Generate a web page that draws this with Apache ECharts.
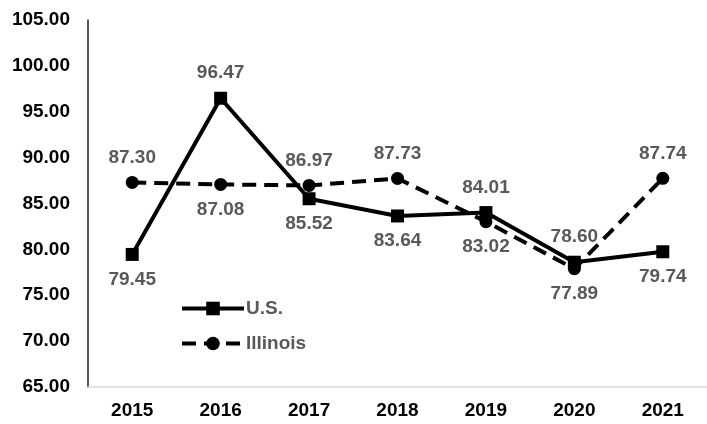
<!DOCTYPE html>
<html>
<head>
<meta charset="utf-8">
<script src="https://cdn.jsdelivr.net/npm/echarts@6/dist/echarts.min.js"></script>
<style>
  html, body { margin: 0; padding: 0; background: #fff; }
  #chart { width: 707px; height: 424px; }
</style>
</head>
<body>
<div id="chart"></div>
<script>
var years = ["2015", "2016", "2017", "2018", "2019", "2020", "2021"];
var usValues = [79.45, 96.47, 85.52, 83.64, 84.01, 78.60, 79.74];
var illinoisValues = [87.30, 87.08, 86.97, 87.73, 83.02, 77.89, 87.74];
// which side of the marker each value label sits on
var usLabelSide = ["bottom", "top", "bottom", "bottom", "top", "top", "bottom"];
var illinoisLabelSide = ["top", "bottom", "top", "top", "bottom", "bottom", "top"];

var labelFont = {
  fontFamily: "Liberation Sans",
  fontWeight: "bold",
  fontSize: 19,
  color: "#595959"
};

function buildPoints(values, sides) {
  return values.map(function (v, i) {
    return {
      value: v,
      label: { position: sides[i] }
    };
  });
}

var myChart = echarts.init(document.getElementById("chart"));
var option = {
  animation: false,
  grid: { left: 88, top: 20, width: 630, height: 367 },
  legend: {
    orient: "vertical",
    left: 175,
    top: 294,
    itemWidth: 62,
    itemHeight: 17,
    itemGap: 16,
    lineStyle: { width: 4 },
    textStyle: {
      fontFamily: "Liberation Sans",
      fontWeight: "bold",
      fontSize: 19,
      color: "#595959",
      padding: [0, 0, 0, -3]
    },
    data: ["U.S.", "Illinois"]
  },
  xAxis: {
    type: "category",
    data: years,
    axisLine: { lineStyle: { color: "#d9d9d9", width: 1.5 } },
    axisTick: { show: false },
    axisLabel: {
      margin: 14,
      fontFamily: "Liberation Sans",
      fontWeight: "bold",
      fontSize: 19,
      color: "#000"
    }
  },
  yAxis: {
    type: "value",
    min: 65,
    max: 105,
    interval: 5,
    axisLine: { show: true, lineStyle: { color: "#222", width: 1.5 } },
    axisTick: { show: false },
    splitLine: { show: false },
    axisLabel: {
      margin: 18,
      fontFamily: "Liberation Sans",
      fontWeight: "bold",
      fontSize: 19,
      color: "#000",
      formatter: function (v) { return v.toFixed(2); }
    }
  },
  series: [
    {
      name: "Illinois",
      type: "line",
      data: buildPoints(illinoisValues, illinoisLabelSide),
      symbol: "circle",
      symbolSize: 13,
      itemStyle: { color: "#000" },
      lineStyle: { color: "#000", width: 4, type: [14, 8] },
      label: Object.assign({
        show: true,
        distance: 9,
        formatter: function (p) { return p.value.toFixed(2); }
      }, labelFont)
    },
    {
      name: "U.S.",
      type: "line",
      data: buildPoints(usValues, usLabelSide),
      symbol: "rect",
      symbolSize: 13,
      itemStyle: { color: "#000" },
      lineStyle: { color: "#000", width: 4 },
      label: Object.assign({
        show: true,
        distance: 9,
        formatter: function (p) { return p.value.toFixed(2); }
      }, labelFont)
    }
  ]
};
myChart.setOption(option);
</script>
</body>
</html>
